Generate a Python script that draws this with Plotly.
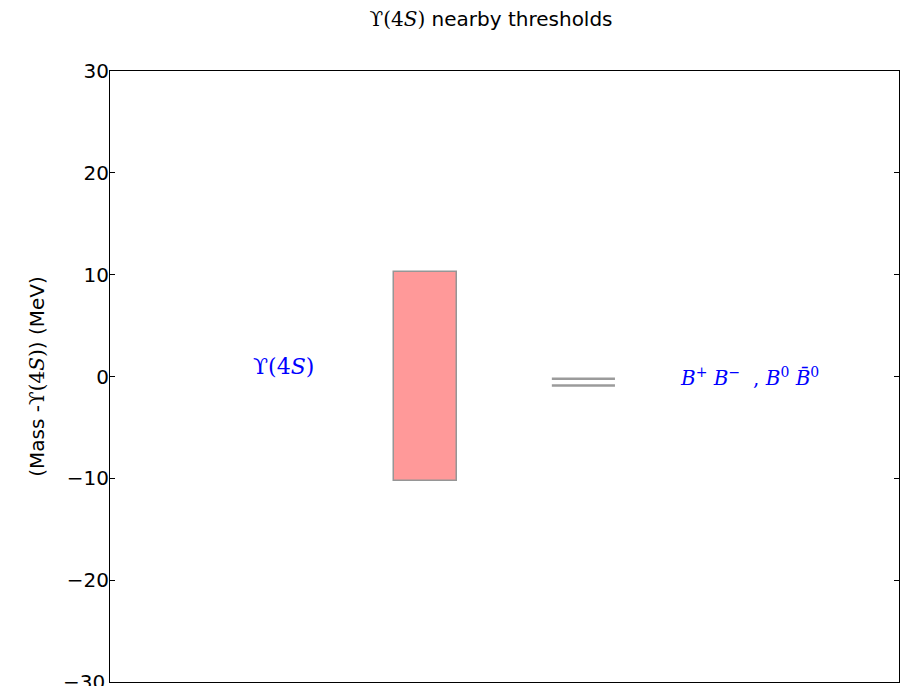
import plotly.graph_objects as go

# Resonance drawn as a box of +-width/2 around its mass (offset from Upsilon(4S), MeV)
state_labels = ["ϒ(4<i>S</i>)"]
state_offsets = [0.0]
state_widths = [20.5]
state_xpos = [4.0]

# Nearby two-body thresholds (offset from Upsilon(4S), MeV)
threshold_offsets = [-0.23, -0.88]
threshold_xpos = 6.0
threshold_label = ("<i>B</i><sup>+</sup> <i>B</i><sup>−</sup>  , "
                   "<i>B</i><sup>0</sup> <i>B̄</i><sup>0</sup>")

y_ticks = [-30, -20, -10, 0, 10, 20, 30]
y_ticktext = ["−30", "−20", "−10", "0", "10", "20", "30"]

serif = "DejaVu Serif"
sans = "DejaVu Sans"
box_w = 0.8

fig = go.Figure()

fig.add_trace(go.Bar(
    x=state_xpos,
    y=state_widths,
    base=[o - w / 2 for o, w in zip(state_offsets, state_widths)],
    width=box_w,
    marker=dict(color="rgb(255,153,153)",
                line=dict(color="rgb(150,150,150)", width=1.5)),
    hoverinfo="skip",
    showlegend=False,
))

for t in threshold_offsets:
    fig.add_trace(go.Scatter(
        x=[threshold_xpos - box_w / 2, threshold_xpos + box_w / 2],
        y=[t, t],
        mode="lines",
        line=dict(color="rgb(155,155,155)", width=2.5),
        hoverinfo="skip",
        showlegend=False,
    ))

for lab, off in zip(state_labels, state_offsets):
    fig.add_annotation(
        x=2.2, y=off, text=lab, showarrow=False,
        xanchor="center", yanchor="bottom", yshift=-4,
        font=dict(family=serif, size=22, color="blue"),
    )

fig.add_annotation(
    x=7.2, y=0, text=threshold_label, showarrow=False,
    xanchor="left", yanchor="middle",
    font=dict(family=serif, size=20, color="blue"),
)

# bottom tick label sits on the page edge and is partly cut off
fig.add_annotation(
    x=0, xref="paper", y=y_ticks[0], yref="y", text=y_ticktext[0],
    showarrow=False, xanchor="right", yanchor="middle", xshift=-3,
    font=dict(family=sans, size=20, color="black"),
)

fig.update_layout(
    width=906, height=686,
    margin=dict(l=110, r=7, t=71, b=4),
    paper_bgcolor="white", plot_bgcolor="white",
    title=dict(
        text=f"<span style='font-family:{serif}'>ϒ(4<i>S</i>)</span> nearby thresholds",
        x=491 / 906, xanchor="center", y=1 - 19 / 686, yanchor="middle",
        font=dict(family=sans, size=20, color="black"),
    ),
    bargap=0,
)

fig.update_xaxes(
    range=[0, 10], showticklabels=False, ticks="",
    showgrid=False, zeroline=False,
    showline=True, linecolor="black", linewidth=1, mirror=True,
)
fig.update_yaxes(
    range=[-30, 30], tickvals=y_ticks[1:], ticktext=y_ticktext[1:],
    ticks="inside", ticklen=5, tickcolor="black",
    showgrid=False, zeroline=False,
    showline=True, linecolor="black", linewidth=1, mirror="ticks",
    tickfont=dict(family=sans, size=20, color="black"),
    ticklabelstandoff=-4,
    title=dict(
        text=f"(Mass -<span style='font-family:{serif}'>ϒ(4<i>S</i>)</span>) (MeV)",
        font=dict(family=sans, size=20, color="black"),
        standoff=16,
    ),
)

fig.write_html("out.html")
